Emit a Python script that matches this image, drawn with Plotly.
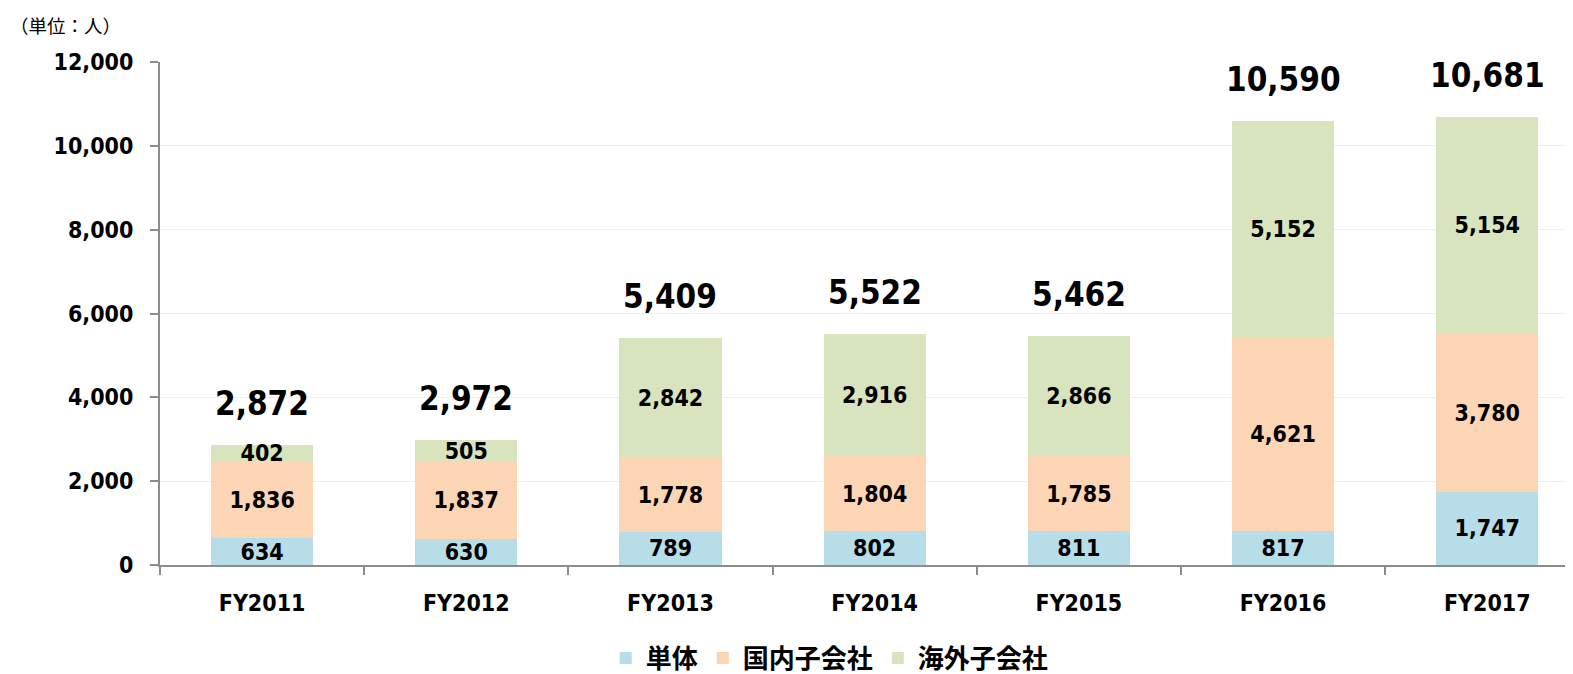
import plotly.graph_objects as go

categories = ["FY2011", "FY2012", "FY2013", "FY2014", "FY2015", "FY2016", "FY2017"]
tantai = [634, 630, 789, 802, 811, 817, 1747]
kokunai = [1836, 1837, 1778, 1804, 1785, 4621, 3780]
kaigai = [402, 505, 2842, 2916, 2866, 5152, 5154]
totals = [a + b + c for a, b, c in zip(tantai, kokunai, kaigai)]
series_names = ["単体", "国内子会社", "海外子会社"]
colors = ["#B7DDE8", "#FCD5B5", "#D7E4BD"]

FONT = "DejaVu Sans Condensed, Open Sans, Noto Sans CJK JP"
JP = "Noto Sans CJK JP, DejaVu Sans"

fig = go.Figure()
for name, vals, col in zip(series_names, [tantai, kokunai, kaigai], colors):
    fig.add_trace(go.Bar(
        x=categories, y=vals, name=name,
        marker=dict(color=col, line=dict(width=0)),
        text=[f"{v:,}" for v in vals],
        textposition="inside", insidetextanchor="middle",
        constraintext="none",
        textfont=dict(family=FONT, size=23, color="#000000", weight="bold"),
        hoverinfo="skip",
    ))

for c, t in zip(categories, totals):
    fig.add_annotation(
        x=c, y=t, text=f"{t:,}", showarrow=False,
        yanchor="bottom", yshift=20,
        font=dict(family=FONT, size=33, color="#000000", weight="bold"),
    )

fig.add_annotation(
    xref="paper", yref="paper", x=-0.1076, y=1.0726, xanchor="left", yanchor="middle",
    text="（単位：人）", showarrow=False,
    font=dict(family=JP, size=18.5, color="#000000"),
)

fig.update_layout(
    barmode="stack",
    bargap=0.5,
    width=1565, height=666,
    margin=dict(l=152, r=0, t=54, b=109, autoexpand=False),
    plot_bgcolor="white", paper_bgcolor="white",
    showlegend=True,
    legend=dict(
        orientation="h", x=0.474, xanchor="center", y=-0.1849, yanchor="middle",
        font=dict(family=JP, size=26, color="#000000", weight="bold"),
        traceorder="normal",
    ),
)
fig.update_xaxes(
    type="category",
    range=[-0.5, 6.42],
    automargin=False,
    showline=True, linecolor="#8C8C8C", linewidth=2,
    ticks="outside", tickson="boundaries", ticklen=8, tickcolor="#8C8C8C", tickwidth=2,
    tickfont=dict(family=FONT, size=23, color="#000000", weight="bold"),
    ticklabelstandoff=16,
    showgrid=False,
)
fig.update_yaxes(
    range=[0, 12000], tickvals=[0, 2000, 4000, 6000, 8000, 10000, 12000],
    tickformat=",d",
    automargin=False,
    showline=True, linecolor="#8C8C8C", linewidth=2,
    ticks="outside", ticklen=8, tickcolor="#8C8C8C", tickwidth=2,
    showgrid=True, gridcolor="#EEEEEE", gridwidth=1,
    zeroline=False,
    tickfont=dict(family=FONT, size=23, color="#000000", weight="bold"),
    ticklabelstandoff=12,
)

fig.write_html("out.html")
